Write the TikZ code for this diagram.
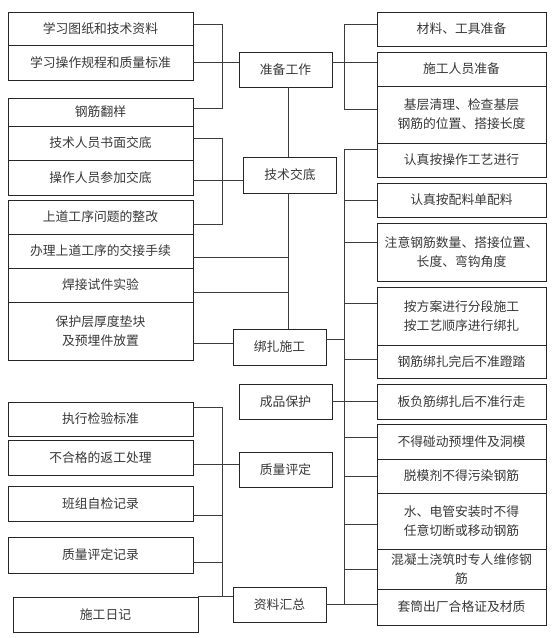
\documentclass[tikz,border=0pt]{standalone}
\usepackage{fontspec}
\setmainfont{Noto Sans CJK SC}
\usetikzlibrary{positioning, calc}
\definecolor{flowLine}{RGB}{60,60,60}
\definecolor{flowText}{RGB}{55,55,55}
\tikzset{
    flow/.style={x=1pt, y=-1pt, line join=miter,
                 font=\fontsize{12.8pt}{19pt}\selectfont, text=flowText},
    itembox/.style={draw=black!85, line width=0.9pt, minimum width=185,
                    align=center, inner sep=2pt},
    rightbox/.style={itembox, minimum width=169},
    stagebox/.style={itembox, minimum width=93, minimum height=35},
    link/.style={draw=flowLine, line width=0.8pt},
}

\begin{document}
\begin{tikzpicture}[flow]
\useasboundingbox (0,0) rectangle (555,638);

% ─── Colonne de gauche ──────────────────────────────────────────────────
\node[itembox, minimum height=33] (tuzhi)    at (100.5,28.5)  {学习图纸和技术资料};
\node[itembox, minimum height=35] (guicheng) at (100.5,62.5)  {学习操作规程和质量标准};
\node[itembox, minimum height=28] (fanyang)  at (100.5,112)   {钢筋翻样};
\node[itembox, minimum height=34] (shumian)  at (100.5,143)   {技术人员书面交底};
\node[itembox, minimum height=35] (canjia)   at (100.5,177.5) {操作人员参加交底};
\node[itembox, minimum height=34] (zhenggai) at (100.5,217)   {上道工序问题的整改};
\node[itembox, minimum height=34] (jiaojie)  at (100.5,251)   {办理上道工序的交接手续};
\node[itembox, minimum height=34] (hanjie)   at (100.5,285)   {焊接试件实验};
\node[itembox, minimum height=58] (baohu)    at (100.5,331)   {保护层厚度垫块\\及预埋件放置};
\node[itembox, minimum height=34] (jianyan)  at (100.5,419)   {执行检验标准};
\node[itembox, minimum height=35] (fangong)  at (100.5,457.5) {不合格的返工处理};
\node[itembox, minimum height=35] (zijian)   at (100.5,503.5) {班组自检记录};
\node[itembox, minimum height=36] (pingding) at (100.5,555)   {质量评定记录};
\node[itembox, minimum height=35] (rizhi)    at (105.5,614.5) {施工日记};

% ─── Étapes ─────────────────────────────────────────────────────────────
\node[stagebox]                    (zhunbei)  at (285.5,69.5)  {准备工作};
\node[stagebox, minimum height=36] (jiaodi)   at (290,175)     {技术交底};
\node[stagebox, minimum height=36] (bangza)   at (279.5,347)   {绑扎施工};
\node[stagebox]                    (chengpin) at (285.5,401.5) {成品保护};
\node[stagebox]                    (zhiliang) at (285.5,469.5) {质量评定};
\node[stagebox]                    (huizong)  at (279.5,604.5) {资料汇总};

% ─── Colonne de droite ──────────────────────────────────────────────────
\node[rightbox, minimum height=34] (cailiao)   at (461.5,29)    {材料、工具准备};
\node[rightbox, minimum height=34] (renyuan)   at (461.5,69)    {施工人员准备};
\node[rightbox, minimum height=57] (jiceng)    at (461.5,114.5) {基层清理、检查基层\\钢筋的位置、搭接长度};
\node[rightbox, minimum height=34] (gongyi)    at (461.5,160)   {认真按操作工艺进行};
\node[rightbox, minimum height=34] (peiliao)   at (461.5,200)   {认真按配料单配料};
\node[rightbox, minimum height=58] (shuliang)  at (461.5,252)   {注意钢筋数量、搭接位置、\\长度、弯钩角度};
\node[rightbox, minimum height=58] (fenduan)   at (461.5,316)   {按方案进行分段施工\\按工艺顺序进行绑扎};
\node[rightbox, minimum height=33] (dengta)    at (461.5,361.5) {钢筋绑扎完后不准蹬踏};
\node[rightbox, minimum height=35] (xingzou)   at (461.5,401.5) {板负筋绑扎后不准行走};
\node[rightbox, minimum height=35] (pengdong)  at (461.5,441.5) {不得碰动预埋件及洞模};
\node[rightbox, minimum height=34] (tuomo)     at (461.5,476)   {脱模剂不得污染钢筋};
\node[rightbox, minimum height=56] (shuidian)  at (461.5,521)   {水、电管安装时不得\\任意切断或移动钢筋};
\node[rightbox, minimum height=40] (hunningtu) at (461.5,569)   {混凝土浇筑时专人维修钢\\筋};
\node[rightbox, minimum height=36] (taotong)   at (461.5,607)   {套筒出厂合格证及材质};

% ─── Axes des accolades ─────────────────────────────────────────────────
\coordinate (busL)  at (222,0);
\coordinate (spine) at (288,0);
\coordinate (busR)  at (344,0);

% ─── Liaisons ───────────────────────────────────────────────────────────
% Préparation
\draw[link] ([yshift=4.5pt]tuzhi.east) -- ([yshift=4.5pt]tuzhi.east -| busL)
            -- ([yshift=4pt]fanyang.east -| busL) -- ([yshift=4pt]fanyang.east);
\draw[link] (guicheng.east) -- (guicheng.east -| zhunbei.west);
\draw[link] ([yshift=7pt]zhunbei.east) -- ([yshift=7pt]zhunbei.east -| renyuan.west);
\draw[link] ([yshift=5pt]cailiao.west) -- ([yshift=5pt]cailiao.west -| busR)
            -- ([yshift=5.5pt]jiceng.west -| busR) -- ([yshift=5.5pt]jiceng.west);

% Transmission technique
\draw[link] ([yshift=5pt]shumian.east) -- ([yshift=5pt]shumian.east -| busL)
            -- ([yshift=-7pt]zhenggai.east -| busL) -- ([yshift=-7pt]zhenggai.east);
\draw[link] ([yshift=-2.5pt]canjia.east) -- ([yshift=-2.5pt]canjia.east -| jiaodi.west);

% Axe principal
\draw[link] (zhunbei.south -| spine) -- (jiaodi.north -| spine);
\draw[link] (jiaodi.south -| spine) -- (bangza.north -| spine);
\draw[link] ([yshift=-6pt]jiaojie.east) -- ([yshift=-6pt]jiaojie.east -| spine);
\draw[link] ([yshift=-7pt]hanjie.east) -- ([yshift=-7pt]hanjie.east -| spine);
\draw[link] ([yshift=4pt]bangza.west -| baohu.east) -- ([yshift=4pt]bangza.west);

% Exécution, protection, archives (côté droit)
\draw[link] ([yshift=11pt]gongyi.west) -- ([yshift=11pt]gongyi.west -| busR)
            -- (huizong.east -| busR);
\draw[link] ([yshift=8pt]bangza.east) -- ([yshift=8pt]bangza.east -| busR);
\foreach \n/\dy in {peiliao/0, shuliang/10, fenduan/13, dengta/2.5,
                    pengdong/4.5, tuomo/0, shuidian/-3, hunningtu/0}{
    \draw[link] ([yshift=\dy pt]\n.west) -- ([yshift=\dy pt]\n.west -| busR);
}
\draw[link] (chengpin.east) -- (chengpin.east -| xingzou.west);
\draw[link] (huizong.east) -- (huizong.east -| taotong.west);

% Contrôle qualité et archives (côté gauche)
\draw[link] ([yshift=12pt]jianyan.east) -- ([yshift=12pt]jianyan.east -| busL)
            -- (rizhi.north east -| busL);
\draw[link] ([yshift=-7pt]fangong.east) -- ([yshift=-7pt]fangong.east -| zhiliang.west);
\draw[link] ([yshift=-11.5pt]zijian.east) -- ([yshift=-11.5pt]zijian.east -| busL);
\draw[link] ([yshift=-7pt]pingding.east) -- ([yshift=-7pt]pingding.east -| busL);
\draw[link] (rizhi.north east) -- (rizhi.north east -| huizong.west);

\end{tikzpicture}
\end{document}
